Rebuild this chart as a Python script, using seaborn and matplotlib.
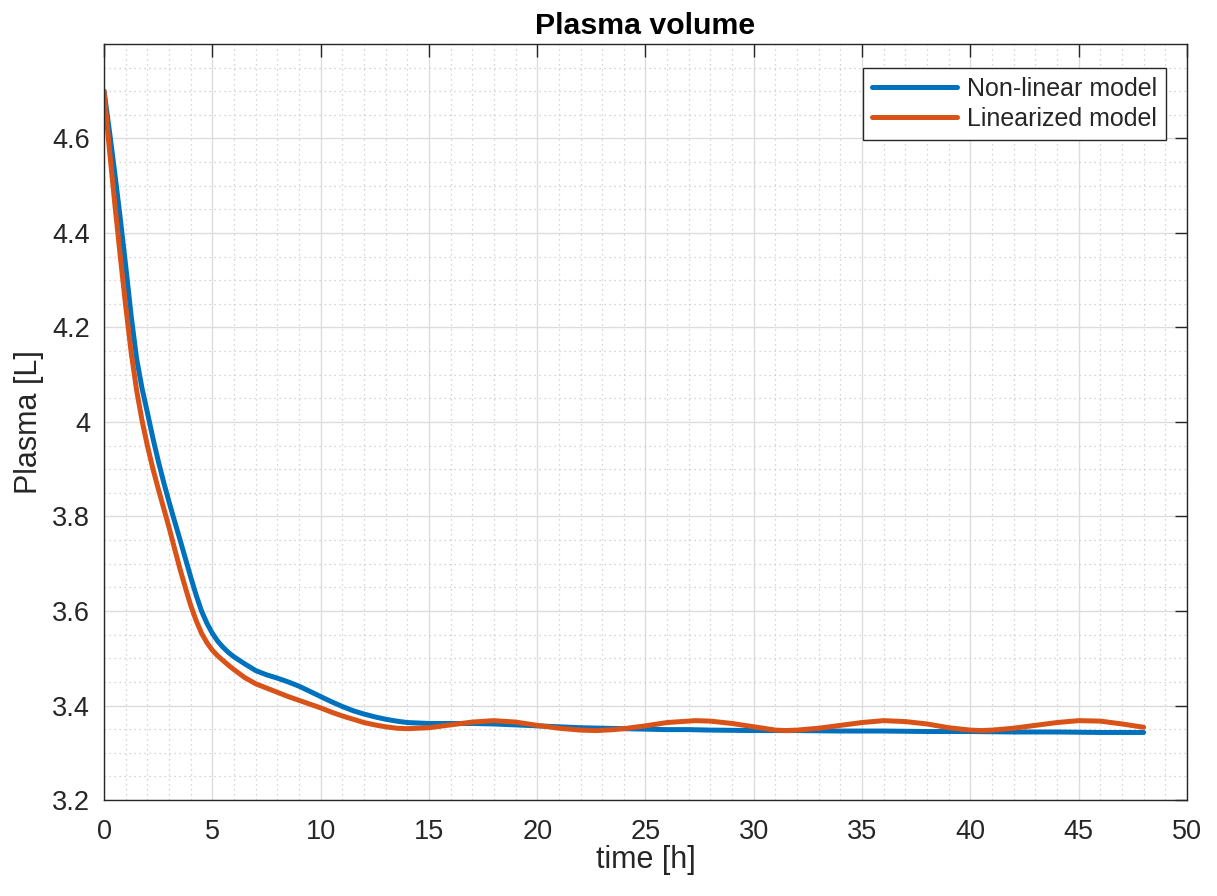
import numpy as np
import pandas as pd
import matplotlib
matplotlib.use("Agg")
import matplotlib.pyplot as plt
import seaborn as sns
from matplotlib.ticker import MultipleLocator

# ---- data ----
t_nonlin = [0, 0.25, 0.5, 0.75, 1.0, 1.25, 1.5, 1.75, 2.0, 2.25, 2.5, 2.75, 3.0,
            3.25, 3.5, 3.75, 4.0, 4.25, 4.5, 4.75, 5.0, 5.25, 5.5, 5.75, 6.0, 6.5,
            7.0, 7.5, 8.0, 8.5, 9.0, 9.5, 10.0, 10.5, 11.0, 11.5, 12.0, 12.5, 13.0,
            13.5, 14.0, 15.0, 16.0, 17.0, 18.0, 19.0, 20.0, 21.0, 22.0, 23.0, 24.0,
            25.0, 26.0, 27.0, 28.0, 30.0, 32.0, 34.0, 36.0, 38.0, 40.0, 42.0, 44.0,
            46.0, 48.0]
v_nonlin = [4.700, 4.615, 4.525, 4.430, 4.330, 4.225, 4.135, 4.072, 4.020, 3.967,
            3.918, 3.873, 3.831, 3.791, 3.752, 3.712, 3.672, 3.634, 3.600, 3.574,
            3.553, 3.536, 3.523, 3.512, 3.503, 3.488, 3.474, 3.465, 3.458, 3.450,
            3.441, 3.430, 3.419, 3.408, 3.398, 3.389, 3.382, 3.376, 3.371, 3.367,
            3.364, 3.362, 3.362, 3.362, 3.361, 3.359, 3.357, 3.355, 3.353, 3.352,
            3.351, 3.350, 3.349, 3.349, 3.348, 3.347, 3.347, 3.346, 3.346, 3.345,
            3.345, 3.344, 3.344, 3.343, 3.343]

t_lin = [0, 0.25, 0.5, 0.75, 1.0, 1.25, 1.5, 1.75, 2.0, 2.25, 2.5, 2.75, 3.0,
         3.25, 3.5, 3.75, 4.0, 4.25, 4.5, 4.75, 5.0, 5.25, 5.5, 5.75, 6.0, 6.5,
         7.0, 7.5, 8.0, 8.5, 9.0, 9.5, 10.0, 10.5, 11.0, 11.5, 12.0, 12.5, 13.0,
         13.5, 14.0, 14.5, 15.0, 16.0, 17.0, 18.0, 19.0, 20.0, 21.0, 22.0, 22.75,
         23.5, 24.0, 25.0, 26.0, 27.3, 28.0, 29.0, 30.0, 31.0, 31.5, 32.0, 33.0,
         34.0, 35.0, 36.0, 37.0, 38.0, 39.0, 40.0, 40.5, 41.0, 42.0, 43.0, 44.0,
         45.0, 46.0, 47.0, 48.0]
v_lin = [4.700, 4.575, 4.460, 4.350, 4.245, 4.148, 4.068, 4.004, 3.950, 3.902,
         3.859, 3.818, 3.777, 3.733, 3.690, 3.650, 3.612, 3.580, 3.553, 3.533,
         3.517, 3.505, 3.495, 3.485, 3.476, 3.459, 3.446, 3.437, 3.428, 3.419,
         3.411, 3.403, 3.395, 3.386, 3.378, 3.371, 3.364, 3.359, 3.355, 3.352,
         3.351, 3.352, 3.353, 3.359, 3.365, 3.368, 3.365, 3.358, 3.352, 3.348,
         3.347, 3.349, 3.351, 3.357, 3.364, 3.368, 3.367, 3.362, 3.355, 3.348,
         3.347, 3.348, 3.352, 3.358, 3.364, 3.368, 3.366, 3.361, 3.353, 3.348,
         3.347, 3.348, 3.352, 3.358, 3.364, 3.368, 3.367, 3.361, 3.354]

series_names = ["Non-linear model", "Linearized model"]
colors = ["#0072BD", "#D95319"]

x_ticks = list(range(0, 51, 5))
y_ticks = [3.2, 3.4, 3.6, 3.8, 4.0, 4.2, 4.4, 4.6]
y_tick_labels = ["3.2", "3.4", "3.6", "3.8", "4", "4.2", "4.4", "4.6"]

df = pd.concat([
    pd.DataFrame({"t": t_nonlin, "v": v_nonlin, "model": series_names[0]}),
    pd.DataFrame({"t": t_lin, "v": v_lin, "model": series_names[1]}),
])

sns.set_style("white")
plt.rcParams["font.family"] = ["Liberation Sans", "DejaVu Sans"]

fig = plt.figure(figsize=(12.17, 8.96), dpi=100)
ax = fig.add_axes([0.0855, 0.1071, 0.8898, 0.8439])

sns.lineplot(data=df, x="t", y="v", hue="model", hue_order=series_names,
             palette=colors, linewidth=3.6, ax=ax, sort=False, estimator=None)
for ln in ax.get_lines():
    ln.set_solid_joinstyle("round")
    ln.set_solid_capstyle("round")

ax.set_xlim(0, 50)
ax.set_ylim(3.2, 4.8)
ax.set_xticks(x_ticks)
ax.set_xticklabels([str(x) for x in x_ticks])
ax.set_yticks(y_ticks)
ax.set_yticklabels(y_tick_labels)
ax.xaxis.set_minor_locator(MultipleLocator(1))
ax.yaxis.set_minor_locator(MultipleLocator(0.05))

ax.grid(which="major", color="#dcdcdc", linewidth=1.0, linestyle="-")
ax.grid(which="minor", color="#c8c8c8", linewidth=0.9, linestyle=(0, (1, 3)))
ax.set_axisbelow(True)

for s in ax.spines.values():
    s.set_color("#262626")
    s.set_linewidth(1.0)

ax.tick_params(which="major", direction="in", length=9, width=1.0,
               top=True, right=True, colors="#262626", labelsize=19.5,
               labelcolor="#262626")
ax.tick_params(axis="x", which="major", pad=14)
ax.tick_params(axis="y", which="major", pad=10)
ax.tick_params(which="minor", length=0, top=True, right=True)

ax.set_xlabel("time [h]", fontsize=22, color="#262626", labelpad=0)
ax.set_ylabel("Plasma [L]", fontsize=22, color="#262626", labelpad=6)
ax.set_title("Plasma volume", fontsize=21.8, fontweight="bold", color="black", pad=7)

leg = ax.legend(loc="upper right", bbox_to_anchor=(0.981, 0.968),
                fontsize=18, frameon=True, fancybox=False, handlelength=3.4,
                borderpad=0.36, labelspacing=0.22, handletextpad=0.4,
                borderaxespad=0.0)
leg.get_frame().set_edgecolor("#262626")
leg.get_frame().set_linewidth(1.0)
leg.get_frame().set_alpha(1.0)
leg.set_title(None)

fig.savefig("out.png", dpi=100, facecolor="white")
